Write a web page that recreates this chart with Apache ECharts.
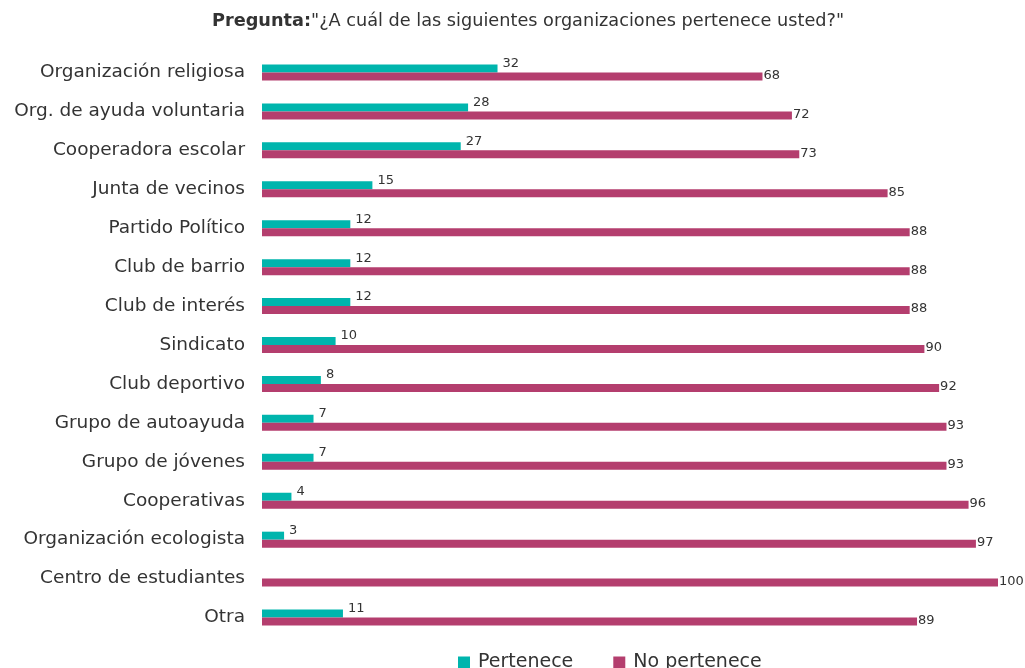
<!DOCTYPE html>
<html>
<head>
<meta charset="utf-8">
<script src="https://cdn.jsdelivr.net/npm/echarts@6/dist/echarts.min.js"></script>
<style>
  html, body { margin: 0; padding: 0; background: #fff; }
  #chart { width: 1025px; height: 668px; }
</style>
</head>
<body>
<div id="chart"></div>
<script>
// Organization membership survey
const categories = [
  'Organización religiosa', 'Org. de ayuda voluntaria', 'Cooperadora escolar',
  'Junta de vecinos', 'Partido Político', 'Club de barrio', 'Club de interés',
  'Sindicato', 'Club deportivo', 'Grupo de autoayuda', 'Grupo de jóvenes',
  'Cooperativas', 'Organización ecologista', 'Centro de estudiantes', 'Otra'
];
const pertenece   = [32, 28, 27, 15, 12, 12, 12, 10, 8, 7, 7, 4, 3, 0, 11];
const noPertenece = [68, 72, 73, 85, 88, 88, 88, 90, 92, 93, 93, 96, 97, 100, 89];

const FONT = '"DejaVu Sans", "Noto Sans", sans-serif';
const TEAL = '#00B5AD';
const PLUM = '#B43E6E';

const chart = echarts.init(document.getElementById('chart'), null, { renderer: 'canvas' });
chart.setOption({
  animation: false,
  title: {
    text: '{b|Pregunta:}"¿A cuál de las siguientes organizaciones pertenece usted?"',
    left: 207,
    top: 7,
    textStyle: {
      fontFamily: FONT,
      fontSize: 17.7,
      fontWeight: 'normal',
      color: '#333',
      rich: {
        b: { fontFamily: FONT, fontSize: 17.7, fontWeight: 'bold', color: '#333' }
      }
    }
  },
  legend: {
    bottom: -9,
    left: 453,
    itemWidth: 12,
    itemHeight: 12,
    itemGap: 40,
    icon: 'rect',
    textStyle: { fontFamily: FONT, fontSize: 19, color: '#333', padding: [0, 0, 0, 3] },
    data: ['Pertenece', 'No pertenece']
  },
  grid: { left: 262, top: 53, width: 736, height: 584, containLabel: false },
  xAxis: {
    type: 'value',
    min: 0,
    max: 100,
    show: false
  },
  yAxis: {
    type: 'category',
    inverse: true,
    data: categories,
    axisLine: { show: false },
    axisTick: { show: false },
    axisLabel: { fontFamily: FONT, fontSize: 18.5, color: '#333', margin: 17 }
  },
  series: [
    {
      name: 'Pertenece',
      type: 'bar',
      data: pertenece,
      barWidth: 8,
      barGap: '0%',
      itemStyle: { color: TEAL },
      label: {
        show: true,
        position: 'right',
        distance: 5,
        offset: [0, -5],
        fontFamily: FONT,
        fontSize: 13,
        color: '#333',
        formatter: p => (p.value ? p.value : '')
      }
    },
    {
      name: 'No pertenece',
      type: 'bar',
      data: noPertenece,
      barWidth: 8,
      barGap: '0%',
      itemStyle: { color: PLUM },
      label: {
        show: true,
        position: 'right',
        distance: 1,
        offset: [0, -1],
        fontFamily: FONT,
        fontSize: 13,
        color: '#333'
      }
    }
  ]
});
</script>
</body>
</html>
